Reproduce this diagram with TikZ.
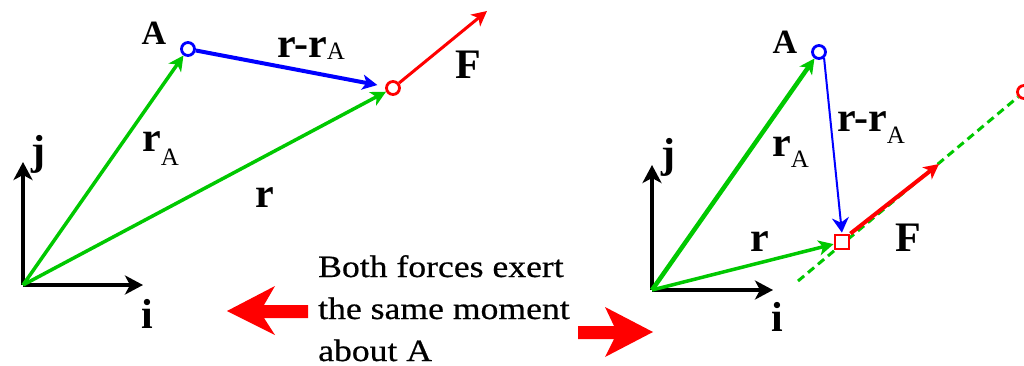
\documentclass[tikz,border=0pt]{standalone}
\usepackage{fontspec}
\setmainfont{Liberation Serif}
\newfontfamily\bodyfont[FakeStretch=1.15,FakeBold=0.6]{Liberation Serif}
\usetikzlibrary{arrows.meta}
\definecolor{vgreen}{RGB}{0,200,0}
\definecolor{vblue}{RGB}{0,0,255}
\definecolor{vred}{RGB}{255,0,0}
\newcommand\mysubfont{\mdseries\fontsize{25}{25}\selectfont}
\begin{document}
\begin{tikzpicture}[x=1pt,y=-1pt,
  tipstyle/.style={-{Stealth[length=15pt,width=15pt,inset=4pt]}},
  axisvec/.style={-{Stealth[length=18pt,width=19pt,inset=5pt]}, draw=black, line width=4pt},
  greenvec/.style={tipstyle, draw=vgreen, line width=3.5pt},
  bluevec/.style={tipstyle, draw=vblue, line width=4pt},
  redvec/.style={tipstyle, draw=vred, line width=3pt},
  ptcircle/.style={circle, draw, line width=2.8pt, minimum size=13pt, inner sep=0pt, fill=white},
  ptsquare/.style={rectangle, draw=vred, line width=2.8pt, minimum size=14pt, inner sep=0pt, fill=white},
  lbl/.style={font=\bfseries\fontsize{42}{42}\selectfont, inner sep=0pt},
  lblA/.style={font=\bfseries\fontsize{34}{34}\selectfont, inner sep=0pt},
  bigarrow/.style={fill=vred},
]
\useasboundingbox (0,0) rectangle (1024,366);

% ---------------- left diagram ----------------
\coordinate (O1) at (23,285);
\coordinate (J1) at (23,162);
\coordinate (I1) at (143,285);
\node[ptcircle, draw=vblue] (A1) at (188,49) {};
\node[ptcircle, draw=vred] (P1) at (393,88) {};
\coordinate (F1) at (487,11);

\draw[axisvec] (O1) -- (J1);
\draw[axisvec] (O1) -- (I1);
\draw[greenvec] (O1) -- (A1);
\draw[greenvec] (O1) -- (P1);
\draw[bluevec, shorten >=8pt] (A1) -- (P1);
\draw[redvec] (P1) -- (F1);

\node[lbl] (j1) at (38,154) {j};
\node[lbl] (i1) at (147,314) {i};
\node[lblA] (Al1) at (154,33) {A};
\node[lbl] (F1l) at (468,65) {F};
\node[lbl] (r1) at (265,198) {r};
\node[lbl, anchor=base west] (rA1) at (142,152) {r\raisebox{-14pt}{\mysubfont A}};
\node[lbl, anchor=base west] (rrA1) at (277,58) {r-r\raisebox{-2pt}{\mysubfont A}};

% ---------------- centre text and arrows ----------------
\node[anchor=base west, align=left, inner sep=0pt,
      font=\bodyfont\fontsize{31}{42}\selectfont] (txt) at (318,361)
      {Both forces exert\\the same moment\\about A};
\fill[bigarrow] (227,311) -- (275,286) -- (264,305) -- (308,305) -- (308,318)
      -- (264,318) -- (275,335) -- cycle;
\fill[bigarrow] (653,332) -- (605,307) -- (614,326) -- (578,326) -- (578,339)
      -- (614,339) -- (605,357) -- cycle;

% ---------------- right diagram ----------------
\coordinate (O2) at (652,290);
\coordinate (J2) at (652,165);
\coordinate (I2) at (773,290);
\coordinate (D2) at (798,281);
\node[ptcircle, draw=vred] (Q2) at (1024,92) {};
\draw[vgreen, line width=3pt, dash pattern=on 8pt off 5pt] (D2) -- (Q2);
\node[ptcircle, draw=vblue] (A2) at (819,52) {};
\node[ptsquare] (S2) at (842,242) {};
\coordinate (F2) at (939,164);

\draw[axisvec] (O2) -- (J2);
\draw[axisvec] (O2) -- (I2);
\draw[greenvec, line width=4.5pt] (O2) -- (A2);
\draw[greenvec, line width=3.5pt] (O2) -- (S2);
\draw[draw=vblue, line width=2pt, shorten >=1pt,
      -{Stealth[length=15pt,width=17pt,inset=5pt]}] (A2.-50) -- (S2.north);
\draw[redvec, line width=4pt] (S2.north east) -- (F2);

\node[lbl] (j2) at (668,157) {j};
\node[lbl] (i2) at (777,317) {i};
\node[lblA] (Al2) at (785,42) {A};
\node[lbl] (F2l) at (908,238) {F};
\node[lbl] (r2) at (760,242) {r};
\node[lbl, anchor=base west] (rA2) at (772,157) {r\raisebox{-11pt}{\mysubfont A}};
\node[lbl, anchor=base west] (rrA2) at (837,132) {r-r\raisebox{-12pt}{\mysubfont A}};
\end{tikzpicture}
\end{document}
